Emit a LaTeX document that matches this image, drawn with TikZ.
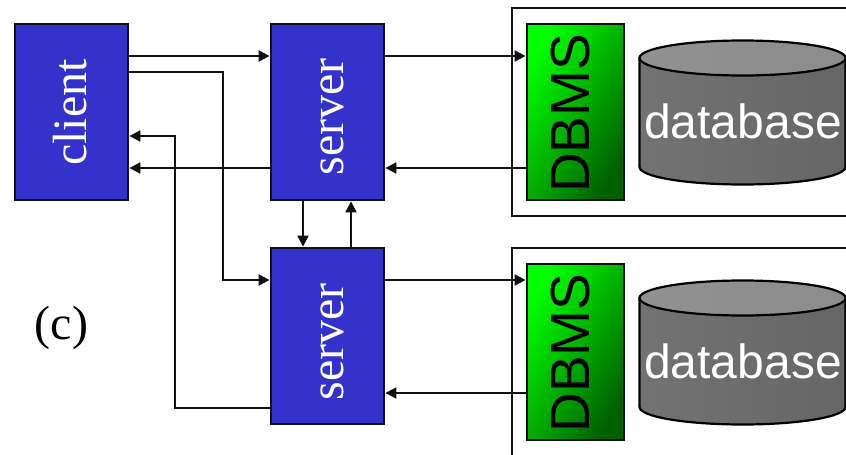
\documentclass[tikz,border=0pt]{standalone}
\usepackage{fontspec}
\setmainfont{Liberation Serif}
\newfontfamily\sansf{Liberation Sans}
\usetikzlibrary{arrows.meta}
\definecolor{boxblue}{RGB}{51,51,204}
\definecolor{gA}{RGB}{0,255,0}
\definecolor{gM}{RGB}{0,200,0}
\definecolor{gC}{RGB}{0,96,0}
\definecolor{lineK}{RGB}{17,17,17}
\tikzset{
  x=1pt,y=-1pt,
  proc/.style={draw=lineK,line width=2.8pt,fill=boxblue,inner sep=0pt,
    minimum width=113pt,minimum height=176pt},
  proctext/.style={text=white,inner sep=0pt,rotate=90,anchor=base,font=\fontsize{48}{48}\selectfont},
  dbms/.style={draw=lineK,line width=2.8pt,inner sep=0pt,top color=gA,middle color=gM,bottom color=gC,shading angle=60,
    minimum width=97pt,minimum height=176pt},
  dbmstext/.style={text=black,inner sep=0pt,rotate=90,anchor=base,font=\sansf\fontsize{55}{55}\selectfont},
  frame/.style={draw=lineK,line width=2.4pt},
  cylbody/.style={draw=black,line width=2.2pt,left color=black!55,right color=black!60},
  cyltop/.style={draw=black,line width=2.2pt,left color=black!43,right color=black!45},
  dbtext/.style={text=white,inner sep=0pt,anchor=base,font=\sansf\fontsize{48}{48}\selectfont},
  conn/.style={draw=lineK,line width=2.2pt},
  arr/.style={conn,-{Triangle[length=11pt,width=11pt]}}
}
\begin{document}
\begin{tikzpicture}
\useasboundingbox (0,0) rectangle (846,455);
\clip (0,0) rectangle (846,455);
% frames
\draw[frame] (860,8) -- (512,8) -- (512,216) -- (860,216);
\draw[frame] (860,248) -- (512,248) -- (512,470);
% boxes
\node[proc] (client) at (71.5,112) {};
\node[proc] (server1) at (327.5,112) {};
\node[proc] (server2) at (327.5,336) {};
\node[dbms] (dbms1) at (575.5,112) {};
\node[dbms] (dbms2) at (575.5,352) {};
\node[proctext] (clientlab) at (86.5,112.5) {client};
\node[proctext] (server1lab) at (343.5,117) {server};
\node[proctext] (server2lab) at (343.5,342) {server};
\node[dbmstext] (dbms1lab) at (589,113.5) {DBMS};
\node[dbmstext] (dbms2lab) at (589.5,353) {DBMS};
% cylinders
\path[cylbody] (639.5,58) -- (639.5,167) arc[x radius=103,y radius=17.5,start angle=180,end angle=0] -- (845.5,58) -- cycle;
\path[cyltop] (742.5,58) ellipse[x radius=103,y radius=17.5];
\path[cylbody] (639.5,298) -- (639.5,407) arc[x radius=103,y radius=17.5,start angle=180,end angle=0] -- (845.5,298) -- cycle;
\path[cyltop] (742.5,298) ellipse[x radius=103,y radius=17.5];
\node[dbtext] (db1) at (743,138) {database};
\node[dbtext] (db2) at (743,378) {database};
\node[font=\fontsize{48}{48}\selectfont,inner sep=0pt,anchor=base] (lab) at (61.5,339.5) {(c)};
% connectors
\draw[arr] (client.east |- 0,56) -- (server1.west |- 0,56);
\draw[arr] (client.east |- 0,72) -- (223,72) -- (223,280) -- (server2.west |- 0,280);
\draw[arr] (server1.west |- 0,168) -- (client.east |- 0,168);
\draw[arr] (server2.west |- 0,408) -- (175,408) -- (175,136) -- (client.east |- 0,136);
\draw[arr] (303,0 |- server1.south) -- (303,0 |- server2.north);
\draw[arr] (351,0 |- server2.north) -- (351,0 |- server1.south);
\draw[arr] (server1.east |- 0,56) -- (dbms1.west |- 0,56);
\draw[arr] (dbms1.west |- 0,168) -- (server1.east |- 0,168);
\draw[arr] (server2.east |- 0,280) -- (dbms2.west |- 0,280);
\draw[arr] (dbms2.west |- 0,393) -- (server2.east |- 0,393);
\end{tikzpicture}
\end{document}
